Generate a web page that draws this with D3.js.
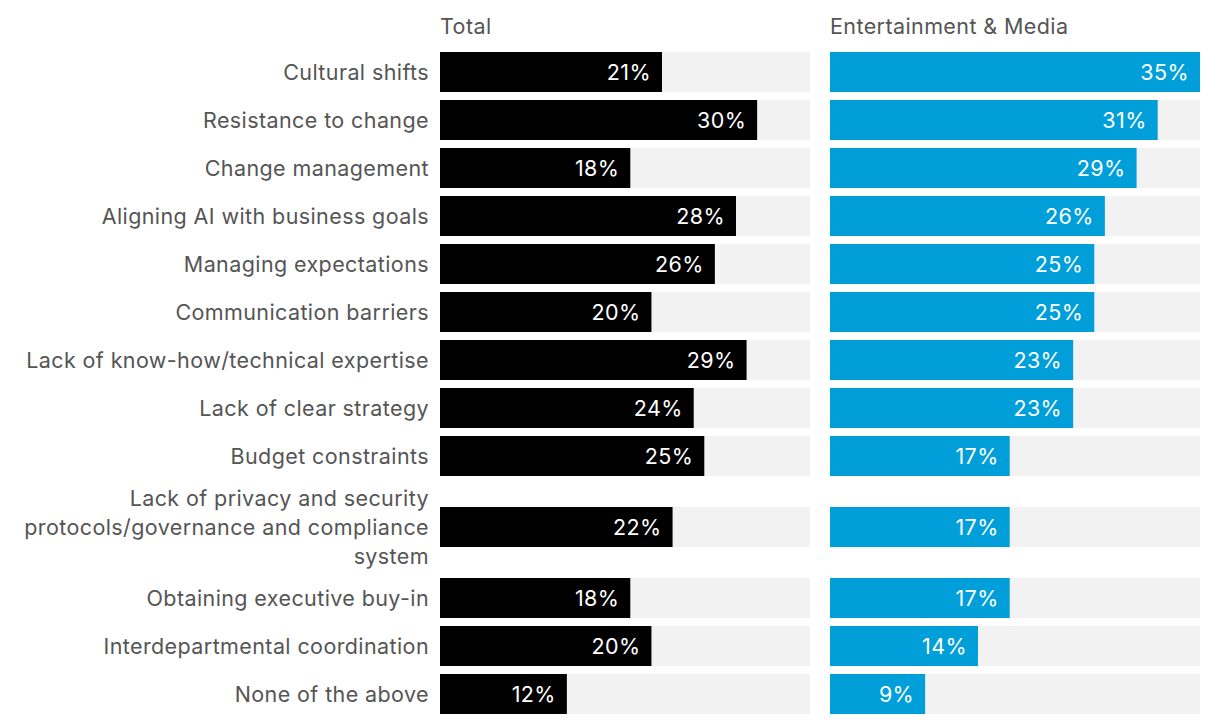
<!DOCTYPE html>
<html><head><meta charset="utf-8">
<script src="https://cdn.jsdelivr.net/npm/d3@7"></script>
<style>
html,body{margin:0;padding:0;background:#fff;}
svg{display:block;font-family:"Inter","Liberation Sans",Arial,sans-serif;font-weight:400;letter-spacing:0.4px;}
</style></head>
<body><svg id="chart" width="1220" height="726"></svg>
<script>
const categories = [
  "Cultural shifts","Resistance to change","Change management","Aligning AI with business goals",
  "Managing expectations","Communication barriers","Lack of know-how/technical expertise",
  "Lack of clear strategy","Budget constraints",
  "Lack of privacy and security|protocols/governance and compliance|system",
  "Obtaining executive buy-in","Interdepartmental coordination","None of the above"
];
const totalValues = [21,30,18,28,26,20,29,24,25,22,18,20,12];
const mediaValues = [35,31,29,26,25,25,23,23,17,17,17,14,9];
const panelTitles = ["Total","Entertainment & Media"];
const panelColors = ["#000000","#009fda"];
const domainMax = 35;

const svg = d3.select("#chart");
const fontSize = 21.5, lineH = 29, barH = 40, rowStep = 48;

// row layout computed from label line counts
const lines = categories.map(c => c.split("|"));
let y = 52;
const rows = lines.map((ls, i) => {
  const extra = ls.length > 1 ? (ls.length - 1) * lineH - 12 : 0;
  const barY = y + Math.ceil(extra / 2);
  y += rowStep + extra;
  return {lines: ls, barY, i};
});

const panels = [
  {title: panelTitles[0], values: totalValues, color: panelColors[0], x0: 440},
  {title: panelTitles[1], values: mediaValues, color: panelColors[1], x0: 830}
];
const panelW = 370;

// labels
const lab = svg.append("g");
rows.forEach(r => {
  const cy = r.barY + barH / 2;
  const n = r.lines.length;
  const t = lab.append("text")
    .attr("x", 429).attr("text-anchor", "end")
    .attr("font-size", fontSize).attr("fill", "#555");
  r.lines.forEach((l, k) => {
    t.append("tspan").attr("x", 429)
      .attr("y", cy + (k - (n - 1) / 2) * lineH)
      .attr("dy", "0.37em").text(l);
  });
});

panels.forEach(p => {
  const x = d3.scaleLinear().domain([0, domainMax]).range([p.x0, p.x0 + panelW]);
  const g = svg.append("g");
  g.append("text").attr("x", p.x0).attr("y", 26).attr("dy", "0.37em")
    .attr("font-size", fontSize).attr("fill", "#555").text(p.title);
  g.selectAll("rect.bg").data(rows).join("rect").attr("class", "bg")
    .attr("x", x(0)).attr("y", d => d.barY).attr("width", x(domainMax) - x(0)).attr("height", barH)
    .attr("fill", "#f2f2f2");
  g.selectAll("rect.bar").data(rows).join("rect").attr("class", "bar")
    .attr("x", x(0)).attr("y", d => d.barY).attr("width", d => x(p.values[d.i]) - x(0)).attr("height", barH)
    .attr("fill", p.color);
  g.selectAll("text.val").data(rows).join("text").attr("class", "val")
    .attr("x", d => x(p.values[d.i]) - 11).attr("y", d => d.barY + barH / 2).attr("dy", "0.37em")
    .attr("text-anchor", "end").attr("font-size", fontSize).attr("fill", "#fff")
    .text(d => p.values[d.i] + "%");
});
</script></body></html>
